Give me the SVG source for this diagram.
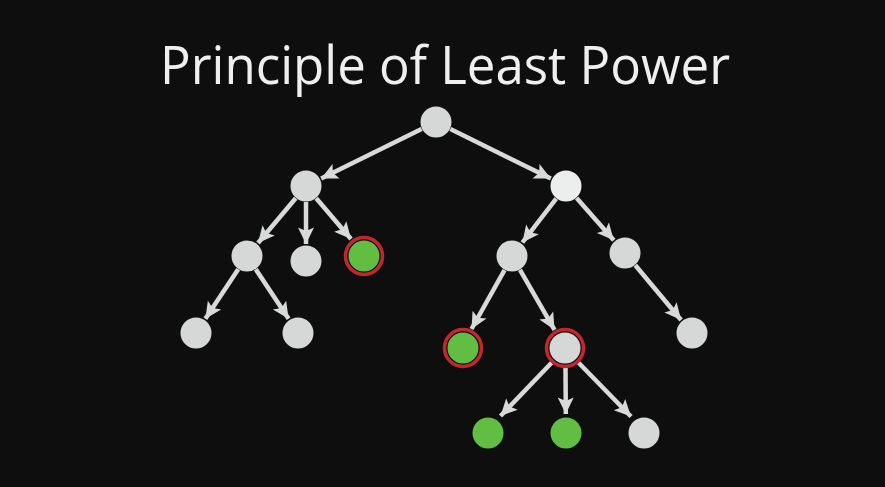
<svg xmlns="http://www.w3.org/2000/svg" width="885" height="487" viewBox="0 0 885 487">
<style>
.bg{fill:#0e0e0e}
.title{font-family:"Open Sans","Noto Sans","Liberation Sans",sans-serif;font-size:53px;fill:#efefef}
.n{fill:#d6d8d7}
.nb{fill:#eceeed}
.g{fill:#62bd43}
.ring{fill:none;stroke:#c4262e;stroke-width:3.5}
.e{stroke:#d8dad9;stroke-width:4.5;fill:none;marker-end:url(#ah)}
</style>
<defs>
<marker id="ah" viewBox="-17 -9 18 18" refX="0" refY="0" markerWidth="18" markerHeight="18" markerUnits="userSpaceOnUse" orient="auto">
<path d="M0,0 L-16.5,-8 L-13,0 L-16.5,8 Z" fill="#d8dad9"/>
</marker>
</defs>
<rect class="bg" x="0" y="0" width="885" height="487"/>
<text class="title" x="445" y="84" text-anchor="middle" textLength="570" lengthAdjust="spacingAndGlyphs">Principle of Least Power</text>
<g id="connectors">
<line class="e" x1="421.6" y1="129.1" x2="321.2" y2="178.5"/>
<line class="e" x1="450.4" y1="129.1" x2="550.8" y2="178.5"/>
<line class="e" x1="295.7" y1="198.2" x2="258" y2="243"/>
<line class="e" x1="306" y1="202" x2="306" y2="244"/>
<line class="e" x1="316.2" y1="198.3" x2="351" y2="239"/>
<line class="e" x1="238.2" y1="269.3" x2="205.4" y2="318.8"/>
<line class="e" x1="255.8" y1="269.3" x2="288.6" y2="318.8"/>
<line class="e" x1="556.2" y1="198.7" x2="522.4" y2="242.5"/>
<line class="e" x1="576.6" y1="198" x2="613.8" y2="240.2"/>
<line class="e" x1="504.5" y1="270.1" x2="471.5" y2="329"/>
<line class="e" x1="520" y1="269.9" x2="554.5" y2="329.8"/>
<line class="e" x1="635.3" y1="265.3" x2="681.1" y2="320"/>
<line class="e" x1="551.6" y1="362.8" x2="500.5" y2="416"/>
<line class="e" x1="565.5" y1="368" x2="565.8" y2="414"/>
<line class="e" x1="578.6" y1="362.7" x2="631" y2="416.5"/>
</g>
<g id="root"><circle class="n" cx="436" cy="122" r="15.5"/></g>
<g id="left"><circle class="n" cx="306" cy="186" r="15.5"/></g>
<g id="right"><circle class="nb" cx="566" cy="186" r="15.5"/></g>
<g id="left-left"><circle class="n" cx="247" cy="256" r="15.5"/></g>
<g id="left-middle"><circle class="n" cx="306" cy="261" r="15.5"/></g>
<g id="left-right"><circle class="g" cx="364" cy="256" r="15.5"/><circle class="ring" cx="364" cy="256" r="18.5"/></g>
<g id="left-left-left"><circle class="n" cx="196" cy="333" r="15.5"/></g>
<g id="left-left-right"><circle class="n" cx="298" cy="333" r="15.5"/></g>
<g id="right-left"><circle class="n" cx="512" cy="256" r="15.5"/></g>
<g id="right-right"><circle class="n" cx="625" cy="253" r="15.5"/></g>
<g id="right-left-left"><circle class="g" cx="463" cy="348" r="15.5"/><circle class="ring" cx="463" cy="348" r="18.5"/></g>
<g id="right-left-right"><circle class="n" cx="565" cy="348" r="15.5"/><circle class="ring" cx="565" cy="348" r="18.5"/></g>
<g id="right-right-right"><circle class="n" cx="692" cy="333" r="15.5"/></g>
<g id="bottom-1"><circle class="g" cx="488" cy="433" r="15.5"/></g>
<g id="bottom-2"><circle class="g" cx="566" cy="433" r="15.5"/></g>
<g id="bottom-3"><circle class="n" cx="644" cy="433" r="15.5"/></g>
</svg>
